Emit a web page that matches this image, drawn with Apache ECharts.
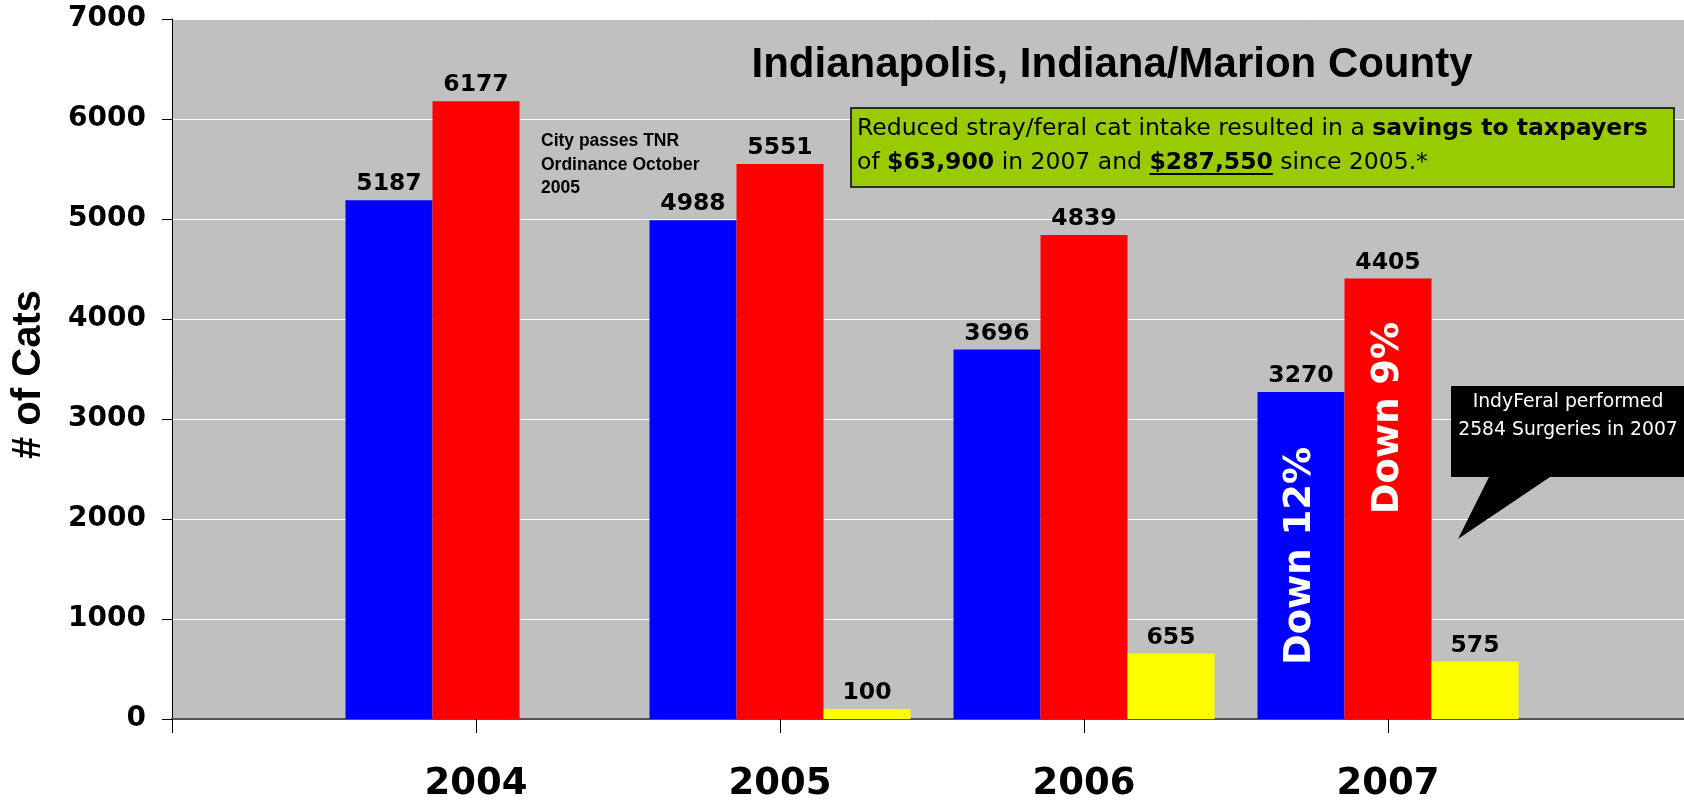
<!DOCTYPE html>
<html>
<head>
<meta charset="utf-8">
<script src="https://cdn.jsdelivr.net/npm/echarts@6/dist/echarts.min.js"></script>
<style>
html,body{margin:0;padding:0;background:#fff;}
#chart{width:1684px;height:803px;}
</style>
</head>
<body>
<div id="chart"></div>
<script>
// ---- data ----
var categories = ['', '2004', '2005', '2006', '2007', ''];
var blueValues = [null, 5187, 4988, 3696, 3270, null];
var redValues = [null, 6177, 5551, 4839, 4405, null];
var yellowValues = [null, null, 100, 655, 575, null];
var yTicks = { min: 0, max: 7000, interval: 1000 };

var chart = echarts.init(document.getElementById('chart'), null, { renderer: 'canvas' });

function measure(font, text) {
  var c = document.createElement('canvas').getContext('2d');
  c.font = font;
  return c.measureText(text).width;
}

var gFont = '23.5px "DejaVu Sans"';
var gBold = 'bold 23.5px "DejaVu Sans"';
var line2X = 857;
var ulStart = line2X + measure(gFont, 'of ') + measure(gBold, '$63,900') + measure(gFont, ' in 2007 and ');
var ulWidth = measure(gBold, '$287,550');

var valueLabel = {
  show: true,
  position: 'top',
  distance: 4,
  color: '#000',
  fontFamily: 'DejaVu Sans',
  fontWeight: 'bold',
  fontSize: 23.5
};

function txt(x, y, text, font, color, align, rot) {
  return {
    type: 'text', x: x, y: y, rotation: rot || 0, z: 100,
    style: {
      text: text, font: font, fill: color,
      align: align, verticalAlign: 'middle',
      textAlign: align, textVerticalAlign: 'middle'
    }
  };
}

var option = {
  animation: false,
  backgroundColor: '#ffffff',
  grid: {
    left: 172, right: -8, top: 19, bottom: 84,
    outerBoundsMode: 'none',
    containLabel: false,
    show: true, backgroundColor: '#C0C0C0', borderWidth: 0
  },
  xAxis: {
    type: 'category',
    data: categories,
    boundaryGap: false,
    axisLine: { show: true, lineStyle: { color: '#555555', width: 2 } },
    axisTick: { show: true, length: 14, lineStyle: { color: '#000', width: 1 } },
    axisLabel: {
      show: true, margin: 47, color: '#000',
      fontFamily: 'DejaVu Sans', fontWeight: 'bold', fontSize: 37
    },
    splitLine: { show: false }
  },
  yAxis: {
    type: 'value',
    min: yTicks.min, max: yTicks.max, interval: yTicks.interval,
    axisLine: { show: true, lineStyle: { color: '#000', width: 1 } },
    axisTick: { show: true, length: 10, lineStyle: { color: '#000', width: 1 } },
    axisLabel: {
      margin: 26, color: '#000',
      fontFamily: 'DejaVu Sans', fontWeight: 'bold', fontSize: 28,
      formatter: function (v) { return String(v); }
    },
    splitLine: { show: true, lineStyle: { color: '#ffffff', width: 1 } }
  },
  series: [
    { type: 'bar', data: blueValues, barWidth: 87, barGap: '0%', itemStyle: { color: '#0000FF' }, label: valueLabel },
    { type: 'bar', data: redValues, barWidth: 87, barGap: '0%', itemStyle: { color: '#FF0000' }, label: valueLabel },
    { type: 'bar', data: yellowValues, barWidth: 87, barGap: '0%', itemStyle: { color: '#FFFF00' }, label: valueLabel }
  ],
  graphic: [
    txt(1112, 65, 'Indianapolis, Indiana/Marion County', 'bold 42px "Liberation Sans"', '#000', 'center'),
    {
      type: 'rect', z: 99,
      shape: { x: 851, y: 108, width: 823, height: 79 },
      style: { fill: '#99CC00', stroke: '#000', lineWidth: 1.5 }
    },
    {
      type: 'text', x: 857, y: 129, z: 100,
      style: {
        text: 'Reduced stray/feral cat intake resulted in a {b|savings to taxpayers}',
        font: gFont, fill: '#000', align: 'left', verticalAlign: 'middle',
        textAlign: 'left', textVerticalAlign: 'middle',
        rich: { b: { fontFamily: 'DejaVu Sans', fontWeight: 'bold', fontSize: 23.5, fill: '#000', color: '#000' } }
      }
    },
    {
      type: 'text', x: line2X, y: 163, z: 100,
      style: {
        text: 'of {b|$63,900} in 2007 and {b|$287,550} since 2005.*',
        font: gFont, fill: '#000', align: 'left', verticalAlign: 'middle',
        textAlign: 'left', textVerticalAlign: 'middle',
        rich: { b: { fontFamily: 'DejaVu Sans', fontWeight: 'bold', fontSize: 23.5, fill: '#000', color: '#000' } }
      }
    },
    {
      type: 'line', z: 100,
      shape: { x1: ulStart, y1: 174, x2: ulStart + ulWidth, y2: 174 },
      style: { stroke: '#000', lineWidth: 2 }
    },
    txt(541, 141, 'City passes TNR', 'bold 17.5px "Liberation Sans"', '#000', 'left'),
    txt(541, 165, 'Ordinance October', 'bold 17.5px "Liberation Sans"', '#000', 'left'),
    txt(541, 188, '2005', 'bold 17.5px "Liberation Sans"', '#000', 'left'),
    {
      type: 'polygon', z: 99,
      shape: { points: [[1451, 386], [1690, 386], [1690, 477], [1550, 477], [1458, 539], [1489, 477], [1451, 477]] },
      style: { fill: '#000' }
    },
    txt(1568, 402.5, 'IndyFeral performed', '18.8px "DejaVu Sans"', '#fff', 'center'),
    txt(1568, 430.5, '2584 Surgeries in 2007', '18.8px "DejaVu Sans"', '#fff', 'center'),
    txt(1300, 556, 'Down 12%', 'bold 37px "DejaVu Sans"', '#fff', 'center', Math.PI / 2),
    txt(1388, 418, 'Down 9%', 'bold 37px "DejaVu Sans"', '#fff', 'center', Math.PI / 2),
    txt(29, 374.5, '# of Cats', 'bold 40px "Liberation Sans"', '#000', 'center', Math.PI / 2)
  ]
};
chart.setOption(option);
</script>
</body>
</html>
